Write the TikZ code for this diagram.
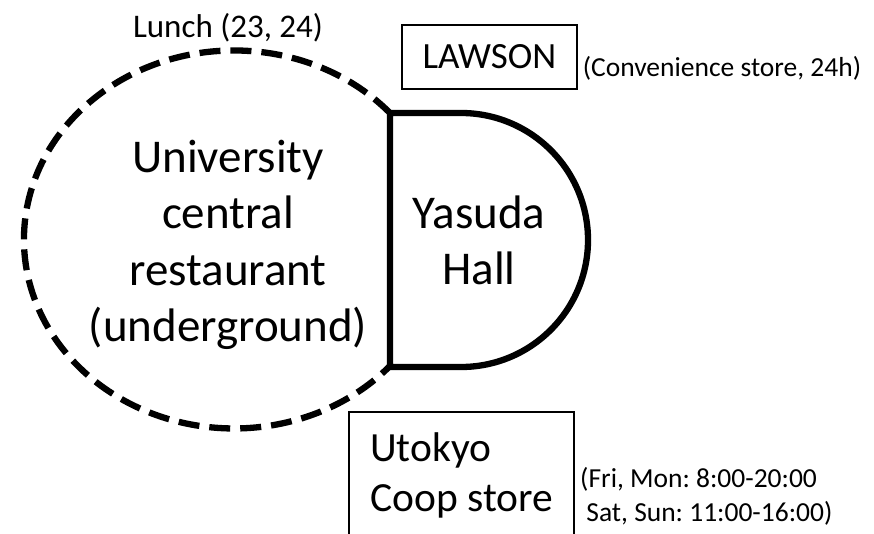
\documentclass[tikz,border=0pt]{standalone}
\usepackage{fontspec}
\setmainfont{Carlito}
\usetikzlibrary{positioning}
\frenchspacing

\begin{document}
\begin{tikzpicture}[x=1pt, y=1pt,
	every node/.style={inner sep=0pt},
	big/.style={font=\fontsize{47}{56}\selectfont, align=center},
	mid/.style={font=\fontsize{41.5}{50}\selectfont, align=left},
	small/.style={font=\fontsize{27.5}{34}\selectfont, align=left},
	wall/.style={line width=6.3pt},
	shop/.style={draw, line width=1.2pt}]
	\useasboundingbox (0,0) rectangle (874,533);

	% buildings
	\draw[wall, dash pattern=on 21pt off 10pt] (390,420) arc[start angle=42, end angle=318, x radius=210, y radius=189];
	\draw[wall] (390,420) -- (461,420) arc[start angle=90, end angle=-90, radius=127] -- (390,166) -- cycle;

	\node[big, anchor=base]			(rest)		at (228,192)	{University\\central\\restaurant\\(underground)};
	\node[big, anchor=base]			(yasuda)	at (479,248)	{Yasuda\\Hall};
	\node[font=\fontsize{33}{40}\selectfont, anchor=base]	(lunch)	at (228,495)	{Lunch (23, 24)};

	% shops
	\node[shop, minimum width=175pt, minimum height=64pt, font=\fontsize{37}{44}\selectfont]	(lawson)	at (489.5,476)	{LAWSON};
	\node[small, right=5pt of lawson.south east, anchor=base west, yshift=13pt]	(lawsoninfo)	{(Convenience store, 24h)};

	\draw[shop] (349,-2) |- (574,121) -- (574,-2);
	\node[mid, anchor=base west]	(coop)		at (370,22)		{Utokyo\\Coop store};
	\node[small, anchor=base west]	(coopinfo)	at (580,12)		{(Fri, Mon: 8:00-20:00\\~Sat, Sun: 11:00-16:00)};
\end{tikzpicture}
\end{document}
